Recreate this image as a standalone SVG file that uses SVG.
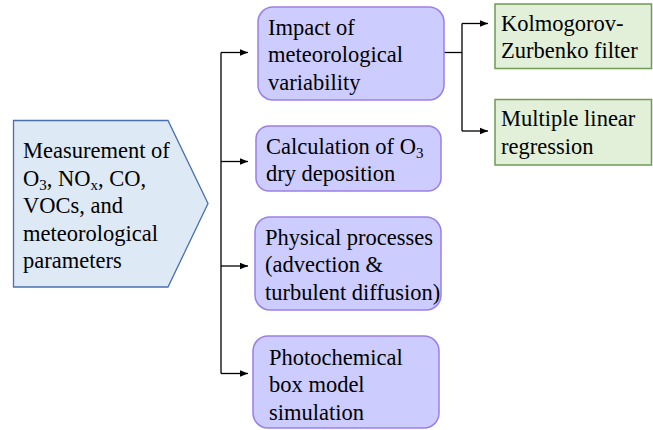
<svg xmlns="http://www.w3.org/2000/svg" width="653" height="430" viewBox="0 0 653 430">
<defs>
<marker id="ah" markerWidth="8" markerHeight="8" refX="8" refY="4" orient="auto" markerUnits="userSpaceOnUse">
<path d="M0,0.8 L8,4 L0,7.2 Z" fill="#000"/>
</marker>
<style>
.purple{fill:#ccccff;stroke:#9b7fe8;stroke-width:1.5}
.green{fill:#e2efd9;stroke:#6f9a52;stroke-width:1.5}
.blue{fill:#dde9f5;stroke:#4a6fb0;stroke-width:1.3}
.ln{fill:none;stroke:#000;stroke-width:1.3}
</style>
</defs>
<rect width="653" height="430" fill="#fff"/>
<g id="connectors">
<path class="ln" d="M221,52.5 V373.5"/>
<path class="ln" d="M221,52.5 H248" marker-end="url(#ah)"/>
<path class="ln" d="M221,161.5 H248" marker-end="url(#ah)"/>
<path class="ln" d="M221,266 H248" marker-end="url(#ah)"/>
<path class="ln" d="M221,373.5 H248" marker-end="url(#ah)"/>
<path class="ln" d="M444,52.5 H462"/>
<path class="ln" d="M462,23.5 V131"/>
<path class="ln" d="M462,23.5 H488" marker-end="url(#ah)"/>
<path class="ln" d="M462,131 H488" marker-end="url(#ah)"/>
</g>
<g id="measurement">
<path class="blue" d="M13.5,120.5 H168 L208,203.5 L168,287 H13.5 Z"/>
<text x="23" y="158" font-family="Liberation Serif" font-size="22.5">Measurement of</text>
<text x="23" y="186" font-family="Liberation Serif" font-size="22.5">O<tspan font-size="15" dy="4">3</tspan><tspan dy="-4">, NO</tspan><tspan font-size="15" dy="4">x</tspan><tspan dy="-4">, CO,</tspan></text>
<text x="23" y="213" font-family="Liberation Serif" font-size="22.5">VOCs, and</text>
<text x="23" y="240.5" font-family="Liberation Serif" font-size="22.5">meteorological</text>
<text x="23" y="268" font-family="Liberation Serif" font-size="22.5">parameters</text>
</g>
<g id="impact">
<rect class="purple" x="258" y="7" width="186" height="93" rx="15"/>
<text x="268" y="34.5" font-family="Liberation Serif" font-size="22.5">Impact of</text>
<text x="268" y="62" font-family="Liberation Serif" font-size="22.5">meteorological</text>
<text x="268" y="89.5" font-family="Liberation Serif" font-size="22.5">variability</text>
</g>
<g id="drydep">
<rect class="purple" x="256" y="126" width="185" height="65" rx="13"/>
<text x="266" y="154" font-family="Liberation Serif" font-size="22.5">Calculation of O<tspan font-size="15" dy="4">3</tspan></text>
<text x="266" y="180.5" font-family="Liberation Serif" font-size="22.5">dry deposition</text>
</g>
<g id="physical">
<rect class="purple" x="255" y="217" width="186" height="93" rx="15"/>
<text x="265" y="245" font-family="Liberation Serif" font-size="22.5">Physical processes</text>
<text x="265" y="272" font-family="Liberation Serif" font-size="22.5">(advection &amp;</text>
<text x="265" y="299.5" font-family="Liberation Serif" font-size="22.5">turbulent diffusion)</text>
</g>
<g id="photochem">
<rect class="purple" x="253" y="336" width="186" height="92" rx="15"/>
<text x="269" y="364.5" font-family="Liberation Serif" font-size="22.5">Photochemical</text>
<text x="269" y="392" font-family="Liberation Serif" font-size="22.5">box model</text>
<text x="269" y="419.5" font-family="Liberation Serif" font-size="22.5">simulation</text>
</g>
<g id="kz">
<rect class="green" x="495" y="4" width="156.5" height="64.5"/>
<text x="501" y="30.5" font-family="Liberation Serif" font-size="22.5">Kolmogorov-</text>
<text x="501" y="58" font-family="Liberation Serif" font-size="22.5">Zurbenko filter</text>
</g>
<g id="mlr">
<rect class="green" x="495" y="99.5" width="156.5" height="65.5"/>
<text x="501" y="126" font-family="Liberation Serif" font-size="22.5">Multiple linear</text>
<text x="501" y="153.5" font-family="Liberation Serif" font-size="22.5">regression</text>
</g>
</svg>
